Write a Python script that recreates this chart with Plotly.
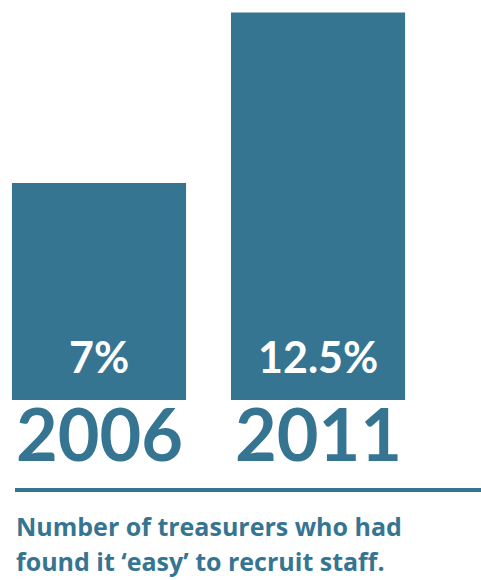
import plotly.graph_objects as go

# Share of treasurers who found it 'easy' to recruit staff
years = ["2006", "2011"]
shares = [7.0, 12.5]
caption_lines = ["Number of treasurers who had", "found it \u2018easy\u2019 to recruit staff."]

BLUE = "#367592"
FONT = "Lato"
CAPTION_FONT = "Open Sans"

xs = list(range(len(years)))

fig = go.Figure(
    go.Bar(
        x=xs,
        y=shares,
        width=0.795,
        marker=dict(color=BLUE, line=dict(width=0)),
        hoverinfo="skip",
    )
)

annotations = []
for x, year, v in zip(xs, years, shares):
    # value label inside the bar, near its base
    annotations.append(dict(
        x=x, y=0, xref="x", yref="y", text=f"{v:g}%",
        showarrow=False, yanchor="bottom", yshift=16,
        font=dict(family=FONT, size=43, color="white", weight="bold"),
    ))
    # year label under the bar
    annotations.append(dict(
        x=x, y=0, xref="x", yref="y", text=year,
        showarrow=False, yanchor="top", yshift=12,
        font=dict(family=FONT, size=72, color=BLUE, weight="bold"),
    ))

# two-line caption under the rule, one annotation per line for even spacing
for i, line in enumerate(caption_lines):
    annotations.append(dict(
        x=14 / 481, y=-0.3625 - 0.0875 * i, xref="paper", yref="paper",
        xanchor="left", yanchor="bottom", align="left",
        text=line, showarrow=False,
        font=dict(family=CAPTION_FONT, size=25, color=BLUE, weight="bold"),
    ))

fig.update_layout(
    width=481,
    height=580,
    margin=dict(l=0, r=0, t=0, b=180),
    paper_bgcolor="white",
    plot_bgcolor="white",
    showlegend=False,
    annotations=annotations,
    shapes=[dict(
        type="line", xref="paper", yref="paper",
        x0=15 / 481, x1=1, y0=-0.225, y1=-0.225,
        line=dict(color=BLUE, width=4),
    )],
    xaxis=dict(range=[-0.452, 1.744], visible=False, fixedrange=True),
    yaxis=dict(range=[0, 12.9], visible=False, fixedrange=True),
)

fig.write_html("out.html")
